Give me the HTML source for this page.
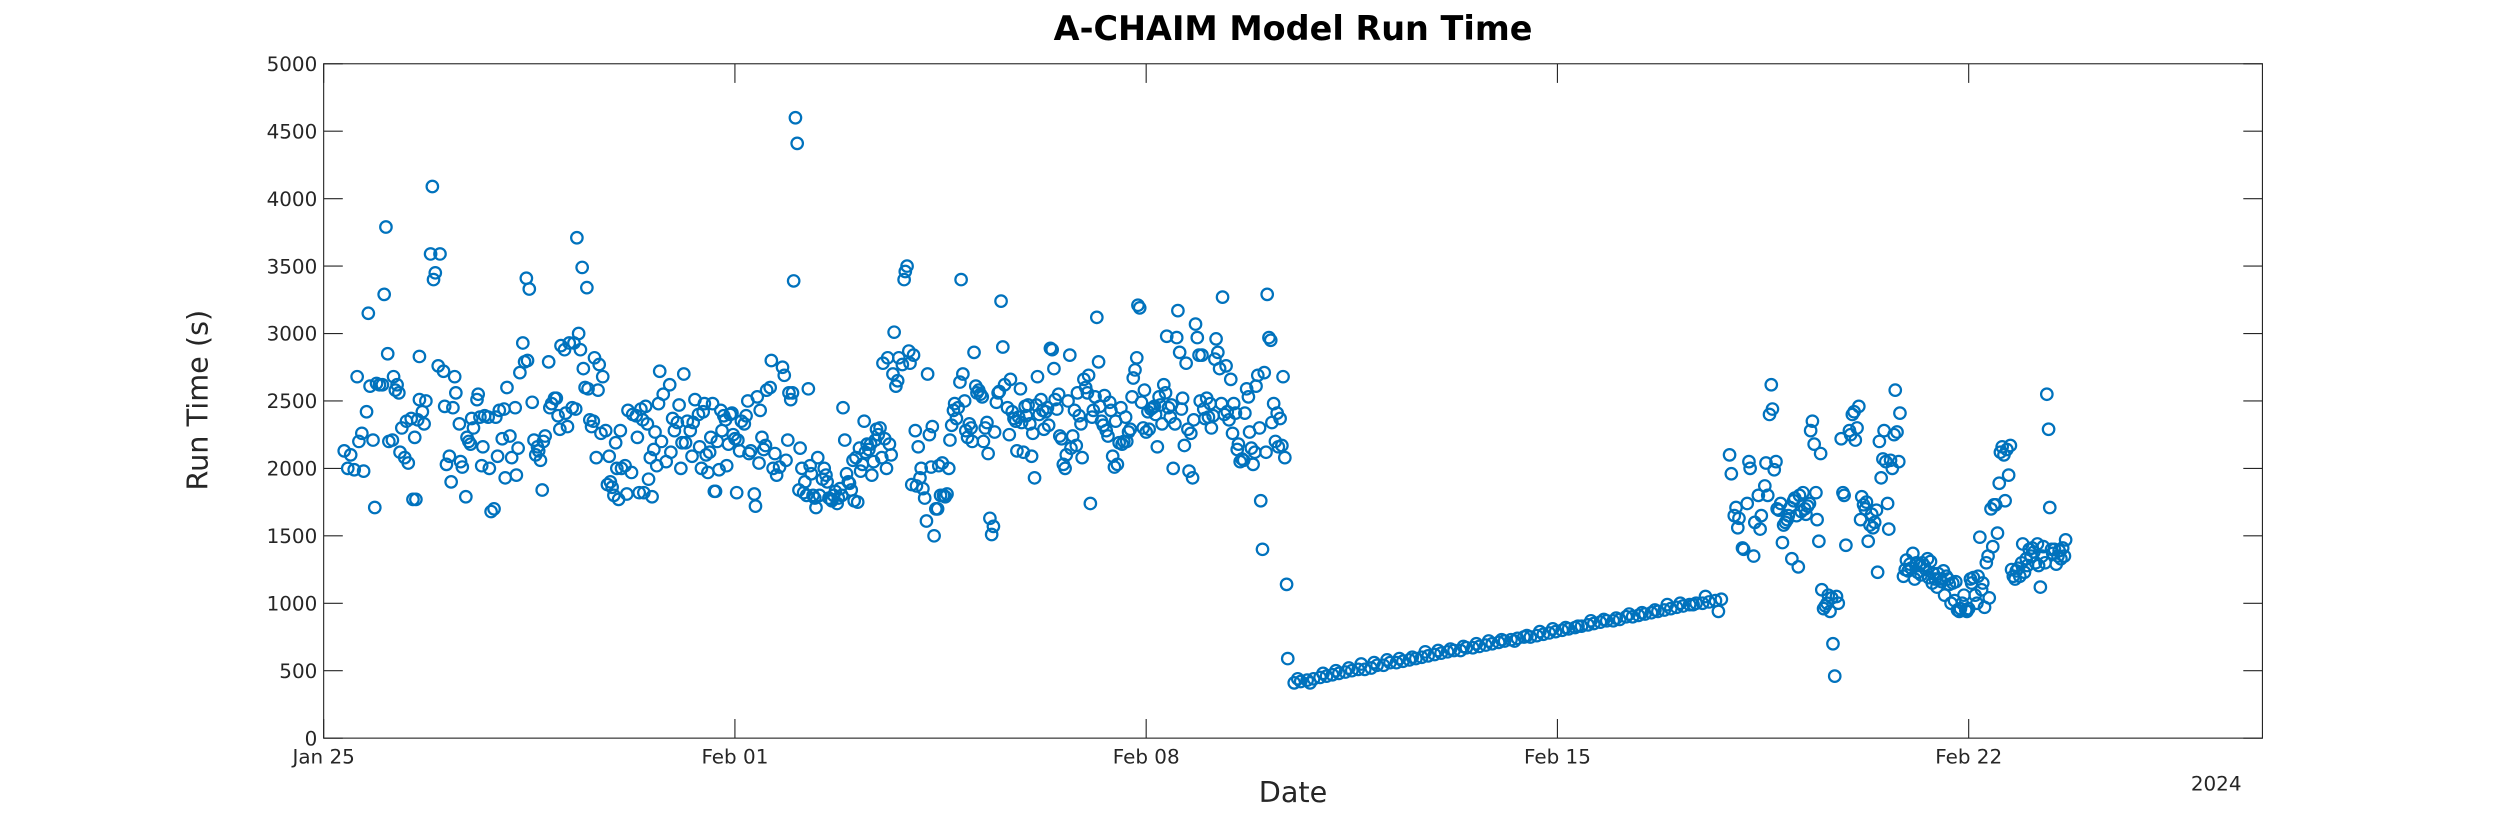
<!DOCTYPE html>
<html>
<head>
<meta charset="utf-8">
<title>A-CHAIM Model Run Time</title>
<style>
html,body{margin:0;padding:0;background:#fff;}
svg{display:block;}
text{font-family:"DejaVu Sans","Liberation Sans",sans-serif;fill:#262626;}
</style>
</head>
<body>
<svg id="chart" width="2500" height="833" viewBox="0 0 1568 522.5" preserveAspectRatio="none" xmlns="http://www.w3.org/2000/svg">
  <rect x="0" y="0" width="1568" height="522.5" fill="#fff"/>
  <text x="811" y="25" text-anchor="middle" font-size="21" font-weight="bold" style="fill:#000">A-CHAIM Model Run Time</text>
  <text transform="translate(130,251) rotate(-90)" text-anchor="middle" font-size="18">Run Time (s)</text>
  <text x="811" y="503" text-anchor="middle" font-size="18">Date</text>
  <text x="1390" y="496" text-anchor="middle" font-size="12.5">2024</text>
  <g id="axes"></g>
  <g id="points"></g>
  <rect x="203" y="40" width="1216" height="423" fill="none" stroke="#262626" stroke-width="0.7"/>
</svg>
<script>
const xTickDays = [0, 7, 14, 21, 28];
const xTickLabels = ["Jan 25", "Feb 01", "Feb 08", "Feb 15", "Feb 22"];
const yTickValues = [0, 500, 1000, 1500, 2000, 2500, 3000, 3500, 4000, 4500, 5000];
const xDomain = [0, 33];
const yDomain = [0, 5000];

const runDays = [
0.35,0.41,0.46,0.52,0.57,0.60,0.65,0.68,0.73,0.76,
0.79,0.84,0.87,0.90,0.95,1.00,1.03,1.06,1.09,1.11,
1.17,1.19,1.22,1.25,1.28,1.30,1.33,1.38,1.41,1.44,
1.49,1.52,1.55,1.57,1.60,1.63,1.63,1.68,1.71,1.74,
1.82,1.85,1.87,1.90,1.95,1.98,2.04,2.06,2.09,2.14,
2.17,2.20,2.23,2.25,2.31,2.33,2.36,2.42,2.44,2.47,
2.50,2.52,2.55,2.61,2.63,2.66,2.69,2.71,2.74,2.80,
2.82,2.85,2.90,2.93,2.96,2.99,3.04,3.07,3.09,3.12,
3.17,3.20,3.26,3.28,3.31,3.34,3.39,3.42,3.45,3.47,
3.50,3.55,3.58,3.61,3.64,3.66,3.69,3.72,3.74,3.77,
3.83,3.85,3.88,3.93,3.96,3.99,4.02,4.04,4.10,4.12,
4.15,4.18,4.23,4.26,4.29,4.31,4.34,4.37,4.40,4.42,
4.45,4.48,4.50,4.53,4.56,4.59,4.61,4.64,4.67,4.69,
4.72,4.75,4.80,4.83,4.86,4.88,4.91,4.94,4.97,4.99,
5.02,5.05,5.07,5.13,5.16,5.18,5.24,5.26,5.32,5.34,
5.37,5.40,5.43,5.45,5.48,5.51,5.53,5.56,5.59,5.62,
5.64,5.67,5.70,5.72,5.75,5.78,5.83,5.89,5.91,5.94,
5.97,6.02,6.05,6.08,6.10,6.13,6.16,6.19,6.24,6.27,
6.29,6.32,6.38,6.40,6.43,6.46,6.48,6.51,6.54,6.57,
6.59,6.62,6.65,6.67,6.70,6.73,6.76,6.78,6.81,6.84,
6.86,6.89,6.92,6.95,6.97,7.00,7.03,7.05,7.08,7.11,
7.16,7.19,7.22,7.24,7.27,7.33,7.35,7.38,7.41,7.43,
7.46,7.49,7.52,7.54,7.60,7.62,7.65,7.68,7.71,7.76,
7.81,7.84,7.87,7.90,7.92,7.95,7.98,8.00,8.03,8.06,
8.09,8.11,8.14,8.17,8.19,8.22,8.25,8.28,8.30,8.33,
8.36,8.38,8.41,8.44,8.49,8.52,8.55,8.57,8.60,8.63,
8.65,8.68,8.71,8.74,8.76,8.79,8.82,8.84,8.87,8.90,
8.93,8.95,8.98,9.01,9.03,9.06,9.09,9.12,9.14,9.17,
9.20,9.22,9.25,9.28,9.31,9.33,9.36,9.39,9.41,9.44,
9.47,9.50,9.52,9.55,9.58,9.60,9.63,9.66,9.69,9.71,
9.74,9.77,9.79,9.85,9.88,9.90,9.93,9.96,9.98,10.01,
10.04,10.07,10.09,10.12,10.15,10.17,10.20,10.23,10.26,10.28,
10.31,10.34,10.36,10.39,10.42,10.45,10.47,10.50,10.53,10.55,
10.58,10.61,10.64,10.66,10.69,10.72,10.74,10.77,10.80,10.83,
10.85,10.88,10.91,10.93,10.96,10.99,11.02,11.04,11.07,11.10,
11.12,11.15,11.18,11.21,11.23,11.26,11.29,11.31,11.34,11.37,
11.40,11.42,11.45,11.48,11.50,11.53,11.56,11.59,11.64,11.67,
11.69,11.72,11.75,11.78,11.80,11.83,11.86,11.88,11.91,11.94,
11.96,11.99,12.02,12.05,12.07,12.10,12.13,12.15,12.18,12.21,
12.24,12.26,12.29,12.32,12.34,12.37,12.40,12.43,12.45,12.48,
12.51,12.53,12.56,12.59,12.62,12.64,12.67,12.70,12.72,12.75,
12.78,12.81,12.83,12.86,12.89,12.91,12.94,12.97,13.00,13.02,
13.05,13.08,13.10,13.13,13.16,13.19,13.21,13.24,13.27,13.29,
13.32,13.35,13.38,13.40,13.43,13.46,13.48,13.51,13.54,13.57,
13.59,13.62,13.65,13.67,13.70,13.73,13.76,13.78,13.81,13.84,
13.86,13.89,13.92,13.95,13.97,14.00,14.03,14.05,14.08,14.11,
14.14,14.16,14.19,14.22,14.24,14.27,14.30,14.33,14.35,14.38,
14.41,14.43,14.46,14.49,14.52,14.54,14.57,14.60,14.62,14.65,
14.68,14.71,14.73,14.76,14.79,14.81,14.84,14.87,14.90,14.92,
14.95,14.98,15.00,15.03,15.06,15.09,15.11,15.14,15.17,15.19,
15.22,15.25,15.28,15.30,15.33,15.36,15.38,15.41,15.44,15.47,
15.49,15.52,15.55,15.57,15.60,15.63,15.66,15.68,15.71,15.74,
15.76,15.79,15.82,15.85,15.87,15.90,15.93,15.95,15.98,16.01,
16.04,16.06,16.09,16.12,16.14,16.17,16.20,16.23,16.25,16.28,
16.31,16.33,16.36,16.39,16.41,
16.52,16.63,16.74,16.85,16.96,17.07,17.17,17.28,17.39,17.50,
17.61,17.72,17.83,17.93,18.04,18.15,18.26,18.37,18.48,18.59,
18.69,18.80,18.91,19.02,19.13,19.24,19.35,19.45,19.56,19.67,
19.78,19.89,20.00,20.10,20.21,20.32,20.43,20.54,20.65,20.76,
20.86,20.97,21.08,21.19,21.30,21.41,21.52,21.62,21.73,21.84,
21.95,22.06,22.17,22.28,22.38,22.49,22.60,22.71,22.82,22.93,
23.03,23.14,23.25,23.36,23.47,23.58,23.69,23.79,
16.58,16.79,17.01,17.23,17.45,17.66,17.88,18.10,18.31,18.53,
18.75,18.97,19.18,19.40,19.62,19.83,20.05,20.27,20.48,20.70,
20.92,21.14,21.35,21.57,21.79,22.00,22.22,22.44,22.66,22.87,
23.09,23.31,23.52,23.74,
23.93,23.96,24.01,24.04,24.07,24.09,24.15,24.17,24.23,24.26,
24.28,24.34,24.36,24.42,24.45,24.47,24.53,24.55,24.58,24.61,
24.64,24.66,24.69,24.72,24.74,24.77,24.80,24.83,24.85,24.88,
24.91,24.93,24.96,24.99,25.02,25.04,25.07,25.10,25.12,25.15,
25.18,25.21,25.23,25.26,25.29,25.31,25.34,25.37,25.40,25.42,
25.45,25.48,25.50,25.53,25.56,25.59,25.61,25.64,25.67,25.69,
25.72,25.75,25.78,25.83,25.86,25.88,25.91,25.97,25.99,26.02,
26.05,26.07,26.10,26.13,26.16,26.18,26.21,26.24,26.26,26.29,
26.32,26.35,26.37,26.40,26.43,26.45,26.48,26.51,26.54,26.56,
26.59,26.62,26.64,26.67,26.70,26.73,26.75,26.78,26.81,26.83,
26.89,26.92,26.94,26.97,27.00,27.02,27.05,27.08,27.11,27.13,
27.16,27.19,27.21,27.24,27.27,27.30,27.32,27.35,27.38,27.40,
27.43,27.46,27.48,27.51,27.54,27.57,27.59,27.62,27.65,27.67,
27.70,27.73,27.76,27.78,27.81,27.84,27.86,27.89,27.92,27.95,
27.97,28.00,28.03,28.05,28.08,28.11,28.14,28.16,28.19,28.22,
28.24,28.27,28.30,28.33,28.35,28.38,28.41,28.43,28.46,28.49,
28.52,28.54,28.57,28.60,28.62,28.65,28.68,28.71,28.73,28.76,
28.79,28.81,28.84,28.87,28.90,28.92,28.95,28.98,29.00,29.03,
29.06,29.08,29.11,29.14,29.17,29.19,29.22,29.25,29.27,29.30,
29.33,29.36,29.38,29.41,29.43,29.46,29.49,29.52,29.54,29.57,
29.60,29.63,29.65
];

const runSeconds = [
2130,2000,2100,1990,2680,2200,2260,1980,2420,3150,
2610,2210,1710,2630,2620,2620,3290,3790,2850,2200,
2210,2680,2580,2620,2560,2120,2300,2080,2350,2040,
2370,1770,2230,1770,2360,2510,2830,2420,2330,2500,
3590,4090,3400,3450,2760,3590,2720,2460,2030,2090,
1900,2450,2680,2560,2330,2050,2010,1790,2230,2200,
2180,2370,2300,2510,2550,2380,2020,2160,2390,2380,
2000,1680,1700,2380,2090,2430,2220,2440,1930,2600,
2240,2080,2450,1950,2150,2710,2930,2790,3410,2800,
3330,2490,2210,2100,2160,2130,2060,1840,2200,2240,
2790,2450,2480,2520,2520,2390,2290,2910,2880,2410,
2310,2930,2450,2930,2440,3710,3000,2880,3490,2740,
2600,3340,2590,2360,2310,2350,2820,2080,2580,2770,
2260,2680,2280,1880,2090,1900,1860,1800,2190,2000,
1770,2280,2000,2020,1810,2430,1970,2400,2390,2230,
1820,2440,2360,1820,2460,2330,1920,2080,1790,2140,
2270,2020,2480,2720,2200,2550,2050,2620,2120,2370,
2280,2340,2470,2000,2190,2700,2190,2350,2280,2090,
2340,2510,2400,2160,2000,2420,2480,2100,1970,2120,
2230,2480,1830,1830,2200,1990,2430,2280,2390,2360,
2020,2180,2400,2410,2250,2220,1820,2210,2130,2350,
2330,2390,2500,2110,2130,1810,1720,2530,2040,2430,
2230,2140,2170,2580,2600,2800,2000,2110,1950,2010,
2750,2690,2060,2210,2560,2510,2560,3390,4600,4410,
1840,2150,2000,1820,1900,1800,2590,2020,1960,1800,
1780,1710,2080,1800,1920,2000,1950,1900,1780,1770,
1760,1800,1830,1740,1780,1850,1800,2450,2210,1960,
1900,1890,1840,2060,1760,2080,1750,2150,1980,2030,
2350,2120,2180,2140,2180,1950,2050,2210,2290,2250,
2300,2080,2780,2220,2000,2820,2180,2100,2700,3010,
2610,2650,2820,2770,3400,3460,3500,2870,2780,1880,
2840,2280,1870,2160,1930,2000,1850,1780,1610,2700,
2250,2010,2310,1500,1700,1700,2020,1800,2040,1800,
1790,1810,2000,2210,2320,2430,2480,2370,2450,2640,
3400,2700,2500,2280,2230,2330,2300,2200,2860,2610,
2560,2580,2550,2530,2200,2300,2340,2110,1630,1510,
1570,2270,2490,2560,2570,3240,2900,2620,2450,2250,
2660,2420,2370,2350,2130,2380,2590,2340,2120,2460,
2390,2470,2330,2090,2260,1930,2470,2680,2400,2510,
2430,2290,2420,2450,2320,2890,2880,2740,2510,2440,
2550,2240,2220,2030,2000,2100,2500,2840,2150,2240,
2430,2170,2560,2390,2330,2080,2660,2600,2560,2690,
1740,2380,2430,2530,3120,2790,2460,2350,2320,2540,
2280,2240,2490,2430,2090,2010,2350,2030,2190,2450,
2180,2200,2380,2200,2270,2290,2530,2670,2730,2820,
3210,3190,2490,2300,2580,2270,2420,2290,2440,2450,
2460,2400,2160,2530,2470,2330,2620,2560,2980,2450,
2380,2470,2000,2330,2970,3170,2860,2440,2520,2170,
2780,2290,1980,2260,1930,2360,3070,2970,2840,2500,
2840,2440,2370,2520,2380,2480,2300,2390,2810,2960,
2860,2740,2480,3270,2400,2760,2420,2360,2660,2260,
2480,2410,2140,2180,2050,2070,2060,2410,2590,2530,
2270,2150,2030,2120,2610,2690,2300,1760,1400,2710,
2120,3290,2970,2950,2340,2480,2200,2410,2160,2370,
2170,2680,2080,1140,590,
410,420,430,440,450,460,470,480,490,500,
510,510,520,540,540,560,560,570,580,590,
600,610,620,630,640,650,650,670,670,680,
690,700,710,720,730,740,750,750,760,770,
780,790,800,810,820,830,840,850,860,870,
870,880,900,900,910,920,930,940,950,960,
970,980,990,1000,1000,1010,1020,1030,
440,410,480,500,520,550,560,580,590,600,
640,650,660,680,700,720,730,720,760,790,
810,820,830,870,880,890,920,930,950,990,
1000,990,1050,940,
2100,1960,1650,1710,1560,1630,1410,1400,1740,2050,
2000,1350,1600,1800,1550,1650,1870,2040,1800,2400,
2620,2440,1990,2050,1700,1690,1740,1450,1580,1600,
1620,1650,1710,1330,1760,1780,1650,1270,1800,1680,
1820,1700,1660,1720,1740,2280,2350,2180,1820,1620,
1460,2110,1100,960,980,1000,1060,940,1040,700,
460,1050,1000,2220,1820,1800,1430,2280,2250,2400,
2420,2210,2300,2460,1620,1790,1730,1700,1750,1460,
1580,1660,1560,1600,1690,1230,2200,1930,2070,2280,
2050,1740,1550,2060,2000,2250,2580,2270,2050,2410,
1200,1250,1320,1240,1290,1260,1370,1180,1300,1230,
1280,1210,1300,1280,1250,1330,1190,1310,1150,1220,
1180,1120,1220,1180,1160,1240,1060,1200,1180,1140,
1000,1150,1020,1160,950,940,960,1000,1060,950,
940,960,1180,1150,1190,1060,1000,1200,1490,1100,
1150,970,1300,1350,1040,1700,1420,1730,1730,1520,
1890,2120,2160,2100,1760,2140,1950,2170,1250,1200,
1180,1240,1260,1200,1300,1440,1230,1330,1280,1400,
1350,1410,1380,1300,1440,1280,1120,1350,1420,1300,
2550,2290,1710,1400,1370,1400,1290,1350,1390,1330,
1410,1350,1470
];

const NS = "http://www.w3.org/2000/svg";
const plot = {left: 203, right: 1419, top: 40, bottom: 463};
function xScale(d) { return plot.left + (d - xDomain[0]) / (xDomain[1] - xDomain[0]) * (plot.right - plot.left); }
function yScale(v) { return plot.bottom - (v - yDomain[0]) / (yDomain[1] - yDomain[0]) * (plot.bottom - plot.top); }

const axes = document.getElementById('axes');
const pts = document.getElementById('points');
const tickLen = 12;

yTickValues.forEach(function (v) {
  const y = yScale(v);
  const t1 = document.createElementNS(NS, 'line');
  t1.setAttribute('x1', plot.left); t1.setAttribute('x2', plot.left + tickLen);
  t1.setAttribute('y1', y); t1.setAttribute('y2', y);
  t1.setAttribute('stroke', '#262626'); t1.setAttribute('stroke-width', '0.7');
  
  
  axes.appendChild(t1);
  const t2 = document.createElementNS(NS, 'line');
  t2.setAttribute('x1', plot.right); t2.setAttribute('x2', plot.right - tickLen);
  t2.setAttribute('y1', y); t2.setAttribute('y2', y);
  t2.setAttribute('stroke', '#262626'); t2.setAttribute('stroke-width', '0.7');
  
  
  axes.appendChild(t2);
  const lab = document.createElementNS(NS, 'text');
  lab.setAttribute('x', plot.left - 4); lab.setAttribute('y', y + 4.5);
  lab.setAttribute('text-anchor', 'end'); lab.setAttribute('font-size', '12.5');
  lab.textContent = String(v);
  
  
  axes.appendChild(lab);
});

xTickDays.forEach(function (d, i) {
  const x = xScale(d);
  const t1 = document.createElementNS(NS, 'line');
  t1.setAttribute('x1', x); t1.setAttribute('x2', x);
  t1.setAttribute('y1', plot.bottom); t1.setAttribute('y2', plot.bottom - tickLen);
  t1.setAttribute('stroke', '#262626'); t1.setAttribute('stroke-width', '0.7');
  
  
  axes.appendChild(t1);
  const t2 = document.createElementNS(NS, 'line');
  t2.setAttribute('x1', x); t2.setAttribute('x2', x);
  t2.setAttribute('y1', plot.top); t2.setAttribute('y2', plot.top + tickLen);
  t2.setAttribute('stroke', '#262626'); t2.setAttribute('stroke-width', '0.7');
  
  
  axes.appendChild(t2);
  const lab = document.createElementNS(NS, 'text');
  lab.setAttribute('x', x); lab.setAttribute('y', plot.bottom + 16);
  lab.setAttribute('text-anchor', 'middle'); lab.setAttribute('font-size', '12.5');
  lab.textContent = xTickLabels[i];
  
  
  axes.appendChild(lab);
});

const n = Math.min(runDays.length, runSeconds.length);
for (let i = 0; i < n; i++) {
  const c = document.createElementNS(NS, 'circle');
  c.setAttribute('cx', xScale(runDays[i]));
  c.setAttribute('cy', yScale(runSeconds[i]));
  c.setAttribute('r', '3.6');
  c.setAttribute('fill', 'none');
  c.setAttribute('stroke', '#0072BD');
  c.setAttribute('stroke-width', '1.4');
  
  
  pts.appendChild(c);
}
</script>
</body>
</html>
